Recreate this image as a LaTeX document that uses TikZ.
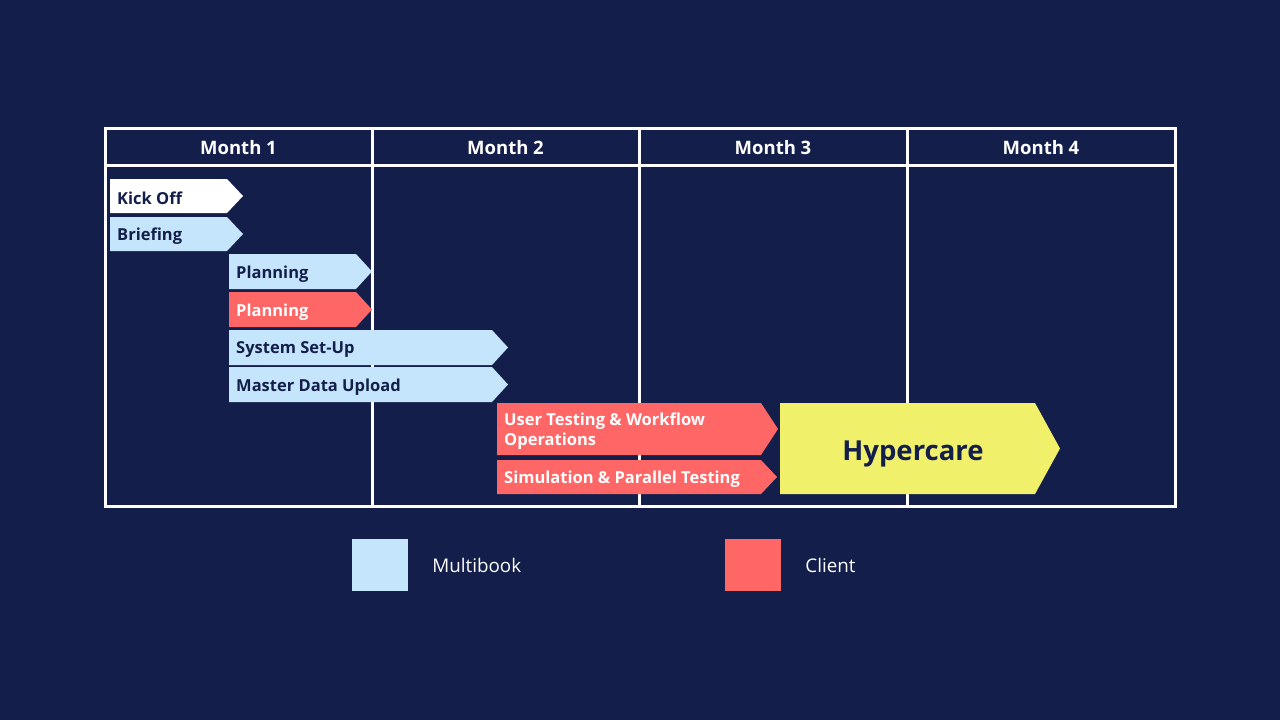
\documentclass[tikz,border=0pt]{standalone}
\usepackage{fontspec}
\setmainfont{Open Sans}
\usetikzlibrary{positioning}
\definecolor{navy}{HTML}{131E4B}
\definecolor{mbblue}{HTML}{C5E5FC}
\definecolor{clred}{HTML}{FF6666}
\definecolor{hcyellow}{HTML}{F0F06A}
\tikzset{
  mb/.style={fill=mbblue},
  mb text/.style={text=navy},
  ko/.style={fill=white},
  ko text/.style={text=navy},
  cl/.style={fill=clred},
  cl text/.style={text=white},
  lbl/.style={anchor=west,inner xsep=7pt,inner ysep=0pt,align=left,font=\bfseries\fontsize{16.5}{20}\selectfont},
  gridline/.style={draw=white,line width=3pt},
  month/.style={text=white,font=\bfseries\fontsize{18.5}{21}\selectfont},
  key/.style={minimum width=56pt,minimum height=52pt,inner sep=0pt},
  keylbl/.style={text=white,inner sep=0pt,font=\fontsize{18.8}{21}\selectfont}
}
\newcommand{\gbar}[8]{% name, style, left, tip, top, bottom, point, text
  \fill[#2] (#3,#5) -- ({#4-#7},#5) -- (#4,{(#5+#6)/2}) -- ({#4-#7},#6) -- (#3,#6) -- cycle;
  \node[lbl,#2 text] (#1) at (#3,{(#5+#6)/2+2.5}) {#8};}
\begin{document}
\begin{tikzpicture}[x=1pt,y=-1pt]
\fill[navy] (0,0) rectangle (1280,720);
\useasboundingbox (0,0) rectangle (1280,720);
\draw[gridline] (105,128) rectangle (1175,506);
\draw[gridline] (105,165) -- (1175,165);
\foreach \x in {372,639,907} \draw[gridline] (\x,128) -- (\x,506);
\foreach \i/\x in {1/238.5,2/505.5,3/773,4/1041} \node[month] (m\i) at (\x,147.5) {Month \i};
\gbar{kickoff}{ko}{110}{243}{179}{213}{16}{Kick Off}
\gbar{briefing}{mb}{110}{243}{217}{251}{16}{Briefing}
\gbar{planmb}{mb}{229}{372}{254}{289}{16}{Planning}
\gbar{plancl}{cl}{229}{372}{292}{327}{16}{Planning}
\gbar{setup}{mb}{229}{508}{330}{365}{16}{System Set-Up}
\gbar{upload}{mb}{229}{508}{367}{402}{16}{Master Data Upload}
\gbar{usertest}{cl}{497}{778}{403}{455}{17}{User Testing \& Workflow\\Operations}
\gbar{simtest}{cl}{497}{777}{460}{494}{16}{Simulation \& Parallel Testing}
\fill[hcyellow] (780,403) -- (1035,403) -- (1060,448.5) -- (1035,494) -- (780,494) -- cycle;
\node[text=navy,font=\bfseries\fontsize{27.5}{30}\selectfont] (hyper) at (913,454) {Hypercare};
\node[key,mb] (mbkey) at (380,565) {};
\node[keylbl,right=24pt of mbkey] (mblbl) {Multibook};
\node[key,cl] (clkey) at (753,565) {};
\node[keylbl,right=24pt of clkey] (cllbl) {Client};
\end{tikzpicture}
\end{document}
